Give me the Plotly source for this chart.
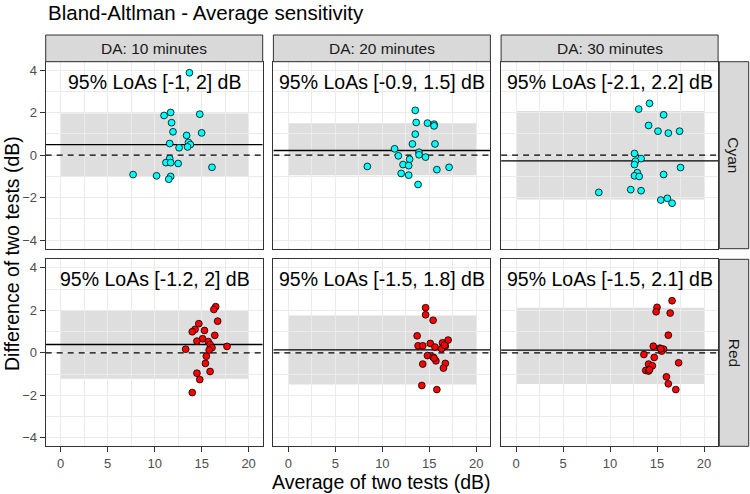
import plotly.graph_objects as go

W, H = 750, 494

durations = ["DA: 10 minutes", "DA: 20 minutes", "DA: 30 minutes"]
colours = ["Cyan", "Red"]

# average of two tests (x) and difference of two tests (y) per panel
cyan10_avg = [13.7, 11.0, 11.7, 14.8, 11.8, 11.95, 15.0, 13.4, 11.6, 13.6, 13.8,
              13.5, 12.6, 11.6, 11.2, 11.7, 12.5, 16.1, 7.7, 10.2, 11.7, 11.5]
cyan10_diff = [3.88, 1.87, 2.01, 1.93, 1.53, 1.10, 1.05, 0.93, 0.55, 0.60, 0.50,
               0.39, 0.35, -0.16, -0.35, -0.35, -0.39, -0.57, -0.91, -0.97, -1.0, -1.13]

cyan20_avg = [13.5, 13.6, 14.8, 15.5, 15.5, 13.5, 13.2, 15.6, 11.3, 11.7, 13.9,
              13.9, 14.6, 12.9, 12.2, 12.8, 8.4, 15.8, 17.1, 12.0, 12.8, 13.8]
cyan20_diff = [2.11, 1.54, 1.51, 1.46, 1.38, 0.99, 0.53, 0.53, 0.30, -0.03, 0.14,
               0.02, -0.09, -0.19, -0.44, -0.49, -0.53, -0.68, -0.57, -0.86, -0.94, -1.38]

cyan30_avg = [14.2, 13.05, 15.7, 14.1, 15.1, 16.2, 17.4, 12.6, 13.3, 12.7, 12.6,
              17.5, 12.9, 12.6, 13.1, 15.7, 8.8, 12.2, 13.3, 15.4, 16.1, 16.6]
cyan30_diff = [2.44, 2.17, 1.90, 1.40, 1.13, 1.04, 1.13, 0.08, -0.16, -0.28, -0.44,
               -0.58, -0.82, -0.97, -1.0, -0.91, -1.75, -1.62, -1.67, -2.11, -2.03, -2.26]

red10_avg = [16.5, 16.3, 16.7, 14.7, 14.3, 14.0, 15.3, 16.4, 15.1, 14.5, 15.7,
             15.9, 16.1, 17.7, 13.3, 15.8, 15.5, 15.4, 15.9, 14.5, 14.8, 14.0]
red10_diff = [2.17, 2.04, 1.49, 1.37, 1.10, 0.99, 1.05, 0.82, 0.66, 0.55, 0.53,
              0.39, 0.24, 0.30, 0.17, 0.13, -0.16, -0.50, -0.88, -0.96, -1.26, -1.87]

red20_avg = [14.6, 14.6, 15.4, 13.7, 15.1, 17.0, 13.8, 14.3, 15.6, 16.4, 16.7,
             16.3, 14.8, 15.4, 15.7, 14.3, 16.7, 16.5, 14.2, 15.8, 16.6, 15.5]
red20_diff = [2.12, 1.79, 1.53, 0.80, 0.44, 0.60, 0.33, 0.33, 0.27, 0.47, 0.31,
              0.19, -0.13, -0.20, -0.38, -0.53, -0.50, -0.72, -1.54, -1.73, 0.36, -0.25]

red30_avg = [16.6, 15.0, 14.9, 16.4, 16.2, 14.6, 15.3, 15.7, 15.5, 13.6, 14.7,
             17.3, 14.1, 14.5, 13.8, 14.1, 16.0, 16.2, 17.0, 15.4, 14.2]
red30_diff = [2.45, 2.14, 1.93, 1.87, 0.83, 0.31, 0.22, 0.17, 0.08, -0.08, -0.22,
              -0.47, -0.53, -0.61, -0.83, -0.86, -1.13, -1.46, -1.73, 0.19, -0.80]

bias = [0.50, 0.22, -0.27, 0.39, 0.14, 0.13]
band_low = [-1.0, -0.94, -2.08, -1.22, -1.49, -1.47]
band_high = [1.96, 1.50, 2.08, 2.0, 1.76, 2.12]
loa_labels = ["95% LoAs [-1, 2] dB", "95% LoAs [-0.9, 1.5] dB", "95% LoAs [-2.1, 2.2] dB",
              "95% LoAs [-1.2, 2] dB", "95% LoAs [-1.5, 1.8] dB", "95% LoAs [-1.5, 2.1] dB"]

panels = [
    (cyan10_avg, cyan10_diff, "cyan"),
    (cyan20_avg, cyan20_diff, "cyan"),
    (cyan30_avg, cyan30_diff, "cyan"),
    (red10_avg, red10_diff, "red"),
    (red20_avg, red20_diff, "red"),
    (red30_avg, red30_diff, "red"),
]

X_RANGE = [-1.6, 21.5]
Y_RANGE = [-4.4, 4.4]

# panel geometry in pixels
col_px = [(45.7, 262.7), (273.4, 490.4), (501.1, 718.1)]
row_px = [(61.7, 248.7), (259.3, 446.3)]
strip_top = 35.0
rstrip = (719.3, 748.7)
FONT = "Liberation Sans, Arial, sans-serif"


def fx(p):
    return p / W


def fy(p):
    return 1 - p / H


fig = go.Figure()
shapes = []
annotations = []
layout = {}

for i, (xs, ys, col) in enumerate(panels):
    r, c = divmod(i, 3)
    n = "" if i == 0 else str(i + 1)
    xa, ya = "x" + n, "y" + n

    # zero line (dashed) and bias line (solid) across the full panel
    fig.add_trace(go.Scatter(
        x=X_RANGE, y=[0, 0], mode="lines", xaxis=xa, yaxis=ya,
        line=dict(color="black", width=1.3, dash="6px,5px"),
        hoverinfo="skip", showlegend=False
    ))
    fig.add_trace(go.Scatter(
        x=X_RANGE, y=[bias[i], bias[i]], mode="lines", xaxis=xa, yaxis=ya,
        line=dict(color="black", width=1.3),
        hoverinfo="skip", showlegend=False
    ))
    fig.add_trace(go.Scatter(
        x=xs, y=ys, mode="markers", xaxis=xa, yaxis=ya,
        marker=dict(size=6.8, color=col, line=dict(color="black", width=0.8)),
        showlegend=False
    ))

    grid = dict(showgrid=True, gridcolor="#EBEBEB", gridwidth=1.2, zeroline=False,
                showline=True, linecolor="#333333", linewidth=1, mirror=True,
                tickcolor="#333333", ticklen=5,
                tickfont=dict(family=FONT, size=13, color="#4D4D4D"))
    layout["xaxis" + n] = dict(
        grid, domain=[fx(col_px[c][0]), fx(col_px[c][1])], anchor=ya,
        range=X_RANGE, tick0=0, dtick=5,
        minor=dict(dtick=2.5, showgrid=True, gridcolor="#EBEBEB", gridwidth=0.6),
        ticks="outside" if r == 1 else "", showticklabels=(r == 1),
    )
    layout["yaxis" + n] = dict(
        grid, domain=[fy(row_px[r][1]), fy(row_px[r][0])], anchor=xa,
        range=Y_RANGE, tick0=0, dtick=2,
        minor=dict(dtick=1, showgrid=True, gridcolor="#EBEBEB", gridwidth=0.6),
        ticks="outside" if c == 0 else "", showticklabels=(c == 0),
    )

    # LoA band, under the gridlines
    shapes.append(dict(type="rect", xref=xa, yref=ya, x0=0, x1=20,
                       y0=band_low[i], y1=band_high[i], layer="below",
                       fillcolor="#DEDEDE", line=dict(width=0)))

    annotations.append(dict(xref=xa, yref=ya, x=10, y=3.45, text=loa_labels[i],
                            showarrow=False, xanchor="center", yanchor="middle",
                            font=dict(family=FONT, size=19.5, color="black")))

# top strips
for c, lab in enumerate(durations):
    shapes.append(dict(type="rect", xref="paper", yref="paper",
                       x0=fx(col_px[c][0]), x1=fx(col_px[c][1]),
                       y0=fy(row_px[0][0]), y1=fy(strip_top),
                       fillcolor="#D9D9D9", line=dict(color="#333333", width=1)))
    annotations.append(dict(xref="paper", yref="paper",
                            x=fx((col_px[c][0] + col_px[c][1]) / 2),
                            y=fy((strip_top + row_px[0][0]) / 2), text=lab,
                            showarrow=False, xanchor="center", yanchor="middle",
                            font=dict(family=FONT, size=15.5, color="#1A1A1A")))

# right strips
for r, lab in enumerate(colours):
    shapes.append(dict(type="rect", xref="paper", yref="paper",
                       x0=fx(rstrip[0]), x1=fx(rstrip[1]),
                       y0=fy(row_px[r][1]), y1=fy(row_px[r][0]),
                       fillcolor="#D9D9D9", line=dict(color="#333333", width=1)))
    annotations.append(dict(xref="paper", yref="paper",
                            x=fx((rstrip[0] + rstrip[1]) / 2),
                            y=fy((row_px[r][0] + row_px[r][1]) / 2), text=lab,
                            textangle=90, showarrow=False,
                            xanchor="center", yanchor="middle",
                            font=dict(family=FONT, size=15.5, color="#1A1A1A")))

# titles
annotations.append(dict(xref="paper", yref="paper", x=fx(46), y=fy(13),
                        text="Bland-Altlman - Average sensitivity", showarrow=False,
                        xanchor="left", yanchor="middle",
                        font=dict(family=FONT, size=20.5, color="black")))
annotations.append(dict(xref="paper", yref="paper", x=fx(381.9), y=fy(482),
                        text="Average of two tests (dB)", showarrow=False,
                        xanchor="center", yanchor="middle",
                        font=dict(family=FONT, size=19.5, color="black")))
annotations.append(dict(xref="paper", yref="paper", x=fx(12), y=fy(254),
                        text="Difference of two tests (dB)", showarrow=False,
                        textangle=-90, xanchor="center", yanchor="middle",
                        font=dict(family=FONT, size=19.5, color="black")))

fig.update_layout(
    width=W, height=H,
    margin=dict(l=0, r=0, t=0, b=0),
    paper_bgcolor="white", plot_bgcolor="white",
    shapes=shapes, annotations=annotations,
    showlegend=False,
    **layout
)

# drop the default page margin so the figure sits at the window's corner
fig.write_html("out.html", config={"displayModeBar": False},
               post_script="document.body.style.margin='0px';")
